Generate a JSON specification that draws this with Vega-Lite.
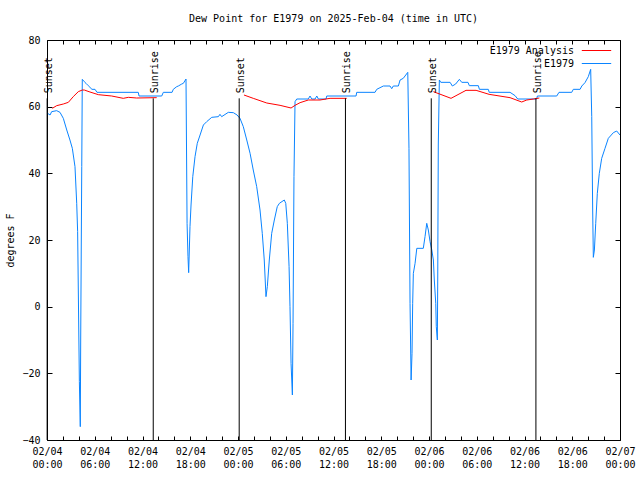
{
  "$schema": "https://vega.github.io/schema/vega-lite/v6.json",
  "width": 573,
  "height": 400,
  "autosize": {"type": "none"},
  "padding": {"left": 47, "top": 40, "right": 20, "bottom": 40},
  "background": "white",
  "title": {
    "text": "Dew Point for E1979 on 2025-Feb-04 (time in UTC)",
    "font": "DejaVu Sans Mono",
    "fontSize": 10,
    "fontWeight": "normal",
    "color": "black",
    "anchor": "middle",
    "offset": 11
  },
  "config": {
    "font": "DejaVu Sans Mono",
    "view": {"stroke": "black", "strokeWidth": 1},
    "axis": {
      "domain": false,
      "grid": false,
      "labelFont": "DejaVu Sans Mono",
      "labelFontSize": 10,
      "labelColor": "black",
      "tickColor": "black",
      "tickWidth": 1,
      "titleFont": "DejaVu Sans Mono",
      "titleFontSize": 10,
      "titleFontWeight": "normal",
      "titleColor": "black"
    }
  },
  "datasets": {
    "obs": [
      {"t": "2025-02-04T00:05:00Z", "v": 58.0, "series": "E1979", "seg": "b"},
      {"t": "2025-02-04T00:23:00Z", "v": 57.5, "series": "E1979", "seg": "b"},
      {"t": "2025-02-04T00:35:00Z", "v": 58.5, "series": "E1979", "seg": "b"},
      {"t": "2025-02-04T01:13:00Z", "v": 58.8, "series": "E1979", "seg": "b"},
      {"t": "2025-02-04T01:38:00Z", "v": 58.3, "series": "E1979", "seg": "b"},
      {"t": "2025-02-04T02:03:00Z", "v": 56.5, "series": "E1979", "seg": "b"},
      {"t": "2025-02-04T02:29:00Z", "v": 53, "series": "E1979", "seg": "b"},
      {"t": "2025-02-04T02:53:00Z", "v": 50, "series": "E1979", "seg": "b"},
      {"t": "2025-02-04T03:11:00Z", "v": 47.5, "series": "E1979", "seg": "b"},
      {"t": "2025-02-04T03:31:00Z", "v": 42, "series": "E1979", "seg": "b"},
      {"t": "2025-02-04T03:44:00Z", "v": 31, "series": "E1979", "seg": "b"},
      {"t": "2025-02-04T03:51:00Z", "v": 22.5, "series": "E1979", "seg": "b"},
      {"t": "2025-02-04T03:56:00Z", "v": 5, "series": "E1979", "seg": "b"},
      {"t": "2025-02-04T04:04:00Z", "v": -22.5, "series": "E1979", "seg": "b"},
      {"t": "2025-02-04T04:11:00Z", "v": -36, "series": "E1979", "seg": "b"},
      {"t": "2025-02-04T04:14:00Z", "v": -10, "series": "E1979", "seg": "b"},
      {"t": "2025-02-04T04:22:00Z", "v": 42, "series": "E1979", "seg": "b"},
      {"t": "2025-02-04T04:26:00Z", "v": 68.2, "series": "E1979", "seg": "b"},
      {"t": "2025-02-04T04:41:00Z", "v": 67.5, "series": "E1979", "seg": "b"},
      {"t": "2025-02-04T04:54:00Z", "v": 67, "series": "E1979", "seg": "b"},
      {"t": "2025-02-04T05:11:00Z", "v": 66.3, "series": "E1979", "seg": "b"},
      {"t": "2025-02-04T05:39:00Z", "v": 65.2, "series": "E1979", "seg": "b"},
      {"t": "2025-02-04T06:02:00Z", "v": 65.2, "series": "E1979", "seg": "b"},
      {"t": "2025-02-04T06:17:00Z", "v": 64.3, "series": "E1979", "seg": "b"},
      {"t": "2025-02-04T11:28:00Z", "v": 64.3, "series": "E1979", "seg": "b"},
      {"t": "2025-02-04T11:34:00Z", "v": 63.2, "series": "E1979", "seg": "b"},
      {"t": "2025-02-04T14:25:00Z", "v": 63.2, "series": "E1979", "seg": "b"},
      {"t": "2025-02-04T14:37:00Z", "v": 64.3, "series": "E1979", "seg": "b"},
      {"t": "2025-02-04T15:43:00Z", "v": 64.3, "series": "E1979", "seg": "b"},
      {"t": "2025-02-04T15:52:00Z", "v": 65.2, "series": "E1979", "seg": "b"},
      {"t": "2025-02-04T16:18:00Z", "v": 66, "series": "E1979", "seg": "b"},
      {"t": "2025-02-04T16:30:00Z", "v": 66.2, "series": "E1979", "seg": "b"},
      {"t": "2025-02-04T16:56:00Z", "v": 66.8, "series": "E1979", "seg": "b"},
      {"t": "2025-02-04T17:08:00Z", "v": 67, "series": "E1979", "seg": "b"},
      {"t": "2025-02-04T17:28:00Z", "v": 68.3, "series": "E1979", "seg": "b"},
      {"t": "2025-02-04T17:36:00Z", "v": 25, "series": "E1979", "seg": "b"},
      {"t": "2025-02-04T17:43:00Z", "v": 15, "series": "E1979", "seg": "b"},
      {"t": "2025-02-04T17:48:00Z", "v": 10.2, "series": "E1979", "seg": "b"},
      {"t": "2025-02-04T17:58:00Z", "v": 24, "series": "E1979", "seg": "b"},
      {"t": "2025-02-04T18:06:00Z", "v": 30.5, "series": "E1979", "seg": "b"},
      {"t": "2025-02-04T18:19:00Z", "v": 39, "series": "E1979", "seg": "b"},
      {"t": "2025-02-04T18:36:00Z", "v": 45, "series": "E1979", "seg": "b"},
      {"t": "2025-02-04T18:53:00Z", "v": 49, "series": "E1979", "seg": "b"},
      {"t": "2025-02-04T19:14:00Z", "v": 51.5, "series": "E1979", "seg": "b"},
      {"t": "2025-02-04T19:39:00Z", "v": 54.5, "series": "E1979", "seg": "b"},
      {"t": "2025-02-04T20:04:00Z", "v": 55.5, "series": "E1979", "seg": "b"},
      {"t": "2025-02-04T20:42:00Z", "v": 56.8, "series": "E1979", "seg": "b"},
      {"t": "2025-02-04T21:32:00Z", "v": 57, "series": "E1979", "seg": "b"},
      {"t": "2025-02-04T21:44:00Z", "v": 57.7, "series": "E1979", "seg": "b"},
      {"t": "2025-02-04T21:57:00Z", "v": 57, "series": "E1979", "seg": "b"},
      {"t": "2025-02-04T22:47:00Z", "v": 58.3, "series": "E1979", "seg": "b"},
      {"t": "2025-02-04T23:25:00Z", "v": 58.2, "series": "E1979", "seg": "b"},
      {"t": "2025-02-04T23:53:00Z", "v": 57.5, "series": "E1979", "seg": "b"},
      {"t": "2025-02-05T00:15:00Z", "v": 56.5, "series": "E1979", "seg": "b"},
      {"t": "2025-02-05T00:40:00Z", "v": 54, "series": "E1979", "seg": "b"},
      {"t": "2025-02-05T01:06:00Z", "v": 50, "series": "E1979", "seg": "b"},
      {"t": "2025-02-05T01:31:00Z", "v": 46, "series": "E1979", "seg": "b"},
      {"t": "2025-02-05T01:55:00Z", "v": 41, "series": "E1979", "seg": "b"},
      {"t": "2025-02-05T02:21:00Z", "v": 36, "series": "E1979", "seg": "b"},
      {"t": "2025-02-05T02:46:00Z", "v": 29, "series": "E1979", "seg": "b"},
      {"t": "2025-02-05T03:03:00Z", "v": 22, "series": "E1979", "seg": "b"},
      {"t": "2025-02-05T03:18:00Z", "v": 14, "series": "E1979", "seg": "b"},
      {"t": "2025-02-05T03:31:00Z", "v": 3, "series": "E1979", "seg": "b"},
      {"t": "2025-02-05T03:41:00Z", "v": 6, "series": "E1979", "seg": "b"},
      {"t": "2025-02-05T03:56:00Z", "v": 14, "series": "E1979", "seg": "b"},
      {"t": "2025-02-05T04:14:00Z", "v": 22, "series": "E1979", "seg": "b"},
      {"t": "2025-02-05T04:34:00Z", "v": 26, "series": "E1979", "seg": "b"},
      {"t": "2025-02-05T04:56:00Z", "v": 30, "series": "E1979", "seg": "b"},
      {"t": "2025-02-05T05:12:00Z", "v": 31, "series": "E1979", "seg": "b"},
      {"t": "2025-02-05T05:49:00Z", "v": 32, "series": "E1979", "seg": "b"},
      {"t": "2025-02-05T06:00:00Z", "v": 31, "series": "E1979", "seg": "b"},
      {"t": "2025-02-05T06:12:00Z", "v": 25, "series": "E1979", "seg": "b"},
      {"t": "2025-02-05T06:25:00Z", "v": 12, "series": "E1979", "seg": "b"},
      {"t": "2025-02-05T06:32:00Z", "v": 0, "series": "E1979", "seg": "b"},
      {"t": "2025-02-05T06:40:00Z", "v": -17, "series": "E1979", "seg": "b"},
      {"t": "2025-02-05T06:50:00Z", "v": -26.5, "series": "E1979", "seg": "b"},
      {"t": "2025-02-05T06:55:00Z", "v": -5, "series": "E1979", "seg": "b"},
      {"t": "2025-02-05T07:02:00Z", "v": 39, "series": "E1979", "seg": "b"},
      {"t": "2025-02-05T07:10:00Z", "v": 61.5, "series": "E1979", "seg": "b"},
      {"t": "2025-02-05T07:23:00Z", "v": 62.3, "series": "E1979", "seg": "b"},
      {"t": "2025-02-05T08:50:00Z", "v": 62.3, "series": "E1979", "seg": "b"},
      {"t": "2025-02-05T09:03:00Z", "v": 63.2, "series": "E1979", "seg": "b"},
      {"t": "2025-02-05T09:16:00Z", "v": 62.3, "series": "E1979", "seg": "b"},
      {"t": "2025-02-05T09:41:00Z", "v": 62.3, "series": "E1979", "seg": "b"},
      {"t": "2025-02-05T09:54:00Z", "v": 63.2, "series": "E1979", "seg": "b"},
      {"t": "2025-02-05T10:06:00Z", "v": 62.3, "series": "E1979", "seg": "b"},
      {"t": "2025-02-05T11:04:00Z", "v": 62.3, "series": "E1979", "seg": "b"},
      {"t": "2025-02-05T11:09:00Z", "v": 63.2, "series": "E1979", "seg": "b"},
      {"t": "2025-02-05T14:50:00Z", "v": 63.2, "series": "E1979", "seg": "b"},
      {"t": "2025-02-05T14:55:00Z", "v": 64.3, "series": "E1979", "seg": "b"},
      {"t": "2025-02-05T17:13:00Z", "v": 64.3, "series": "E1979", "seg": "b"},
      {"t": "2025-02-05T17:26:00Z", "v": 65.2, "series": "E1979", "seg": "b"},
      {"t": "2025-02-05T18:16:00Z", "v": 66.2, "series": "E1979", "seg": "b"},
      {"t": "2025-02-05T19:06:00Z", "v": 66.2, "series": "E1979", "seg": "b"},
      {"t": "2025-02-05T19:19:00Z", "v": 65.4, "series": "E1979", "seg": "b"},
      {"t": "2025-02-05T19:31:00Z", "v": 66.2, "series": "E1979", "seg": "b"},
      {"t": "2025-02-05T20:09:00Z", "v": 66.2, "series": "E1979", "seg": "b"},
      {"t": "2025-02-05T20:22:00Z", "v": 68, "series": "E1979", "seg": "b"},
      {"t": "2025-02-05T20:46:00Z", "v": 68.5, "series": "E1979", "seg": "b"},
      {"t": "2025-02-05T21:20:00Z", "v": 70.3, "series": "E1979", "seg": "b"},
      {"t": "2025-02-05T21:29:00Z", "v": 47.5, "series": "E1979", "seg": "b"},
      {"t": "2025-02-05T21:37:00Z", "v": 1, "series": "E1979", "seg": "b"},
      {"t": "2025-02-05T21:45:00Z", "v": -22, "series": "E1979", "seg": "b"},
      {"t": "2025-02-05T21:52:00Z", "v": -14, "series": "E1979", "seg": "b"},
      {"t": "2025-02-05T21:57:00Z", "v": 1, "series": "E1979", "seg": "b"},
      {"t": "2025-02-05T22:02:00Z", "v": 10, "series": "E1979", "seg": "b"},
      {"t": "2025-02-05T22:15:00Z", "v": 13, "series": "E1979", "seg": "b"},
      {"t": "2025-02-05T22:28:00Z", "v": 17.5, "series": "E1979", "seg": "b"},
      {"t": "2025-02-05T23:17:00Z", "v": 17.5, "series": "E1979", "seg": "b"},
      {"t": "2025-02-05T23:30:00Z", "v": 21, "series": "E1979", "seg": "b"},
      {"t": "2025-02-05T23:43:00Z", "v": 25, "series": "E1979", "seg": "b"},
      {"t": "2025-02-05T23:55:00Z", "v": 23, "series": "E1979", "seg": "b"},
      {"t": "2025-02-06T00:08:00Z", "v": 19.5, "series": "E1979", "seg": "b"},
      {"t": "2025-02-06T00:21:00Z", "v": 17, "series": "E1979", "seg": "b"},
      {"t": "2025-02-06T00:33:00Z", "v": 14, "series": "E1979", "seg": "b"},
      {"t": "2025-02-06T00:40:00Z", "v": 8, "series": "E1979", "seg": "b"},
      {"t": "2025-02-06T00:51:00Z", "v": 1, "series": "E1979", "seg": "b"},
      {"t": "2025-02-06T00:55:00Z", "v": -6, "series": "E1979", "seg": "b"},
      {"t": "2025-02-06T01:03:00Z", "v": -10, "series": "E1979", "seg": "b"},
      {"t": "2025-02-06T01:06:00Z", "v": 9.5, "series": "E1979", "seg": "b"},
      {"t": "2025-02-06T01:10:00Z", "v": 48.5, "series": "E1979", "seg": "b"},
      {"t": "2025-02-06T01:18:00Z", "v": 68, "series": "E1979", "seg": "b"},
      {"t": "2025-02-06T01:29:00Z", "v": 67.3, "series": "E1979", "seg": "b"},
      {"t": "2025-02-06T02:39:00Z", "v": 67.3, "series": "E1979", "seg": "b"},
      {"t": "2025-02-06T02:56:00Z", "v": 66.2, "series": "E1979", "seg": "b"},
      {"t": "2025-02-06T03:21:00Z", "v": 66.8, "series": "E1979", "seg": "b"},
      {"t": "2025-02-06T03:49:00Z", "v": 68.2, "series": "E1979", "seg": "b"},
      {"t": "2025-02-06T04:07:00Z", "v": 67.3, "series": "E1979", "seg": "b"},
      {"t": "2025-02-06T04:54:00Z", "v": 67.3, "series": "E1979", "seg": "b"},
      {"t": "2025-02-06T05:04:00Z", "v": 66.3, "series": "E1979", "seg": "b"},
      {"t": "2025-02-06T06:12:00Z", "v": 66.3, "series": "E1979", "seg": "b"},
      {"t": "2025-02-06T06:20:00Z", "v": 65.2, "series": "E1979", "seg": "b"},
      {"t": "2025-02-06T07:27:00Z", "v": 65.2, "series": "E1979", "seg": "b"},
      {"t": "2025-02-06T07:34:00Z", "v": 64.3, "series": "E1979", "seg": "b"},
      {"t": "2025-02-06T10:11:00Z", "v": 64.3, "series": "E1979", "seg": "b"},
      {"t": "2025-02-06T10:49:00Z", "v": 63.3, "series": "E1979", "seg": "b"},
      {"t": "2025-02-06T11:09:00Z", "v": 62.3, "series": "E1979", "seg": "b"},
      {"t": "2025-02-06T13:32:00Z", "v": 62.3, "series": "E1979", "seg": "b"},
      {"t": "2025-02-06T13:37:00Z", "v": 63.2, "series": "E1979", "seg": "b"},
      {"t": "2025-02-06T16:03:00Z", "v": 63.2, "series": "E1979", "seg": "b"},
      {"t": "2025-02-06T16:20:00Z", "v": 64.3, "series": "E1979", "seg": "b"},
      {"t": "2025-02-06T17:56:00Z", "v": 64.3, "series": "E1979", "seg": "b"},
      {"t": "2025-02-06T18:08:00Z", "v": 65.2, "series": "E1979", "seg": "b"},
      {"t": "2025-02-06T18:59:00Z", "v": 65.2, "series": "E1979", "seg": "b"},
      {"t": "2025-02-06T19:12:00Z", "v": 66.2, "series": "E1979", "seg": "b"},
      {"t": "2025-02-06T19:36:00Z", "v": 67.2, "series": "E1979", "seg": "b"},
      {"t": "2025-02-06T20:01:00Z", "v": 69, "series": "E1979", "seg": "b"},
      {"t": "2025-02-06T20:19:00Z", "v": 71.2, "series": "E1979", "seg": "b"},
      {"t": "2025-02-06T20:27:00Z", "v": 57, "series": "E1979", "seg": "b"},
      {"t": "2025-02-06T20:34:00Z", "v": 29, "series": "E1979", "seg": "b"},
      {"t": "2025-02-06T20:39:00Z", "v": 14.8, "series": "E1979", "seg": "b"},
      {"t": "2025-02-06T20:47:00Z", "v": 17, "series": "E1979", "seg": "b"},
      {"t": "2025-02-06T20:57:00Z", "v": 25, "series": "E1979", "seg": "b"},
      {"t": "2025-02-06T21:09:00Z", "v": 34, "series": "E1979", "seg": "b"},
      {"t": "2025-02-06T21:24:00Z", "v": 40, "series": "E1979", "seg": "b"},
      {"t": "2025-02-06T21:42:00Z", "v": 44.5, "series": "E1979", "seg": "b"},
      {"t": "2025-02-06T22:07:00Z", "v": 47.5, "series": "E1979", "seg": "b"},
      {"t": "2025-02-06T22:32:00Z", "v": 50.5, "series": "E1979", "seg": "b"},
      {"t": "2025-02-06T23:10:00Z", "v": 52.2, "series": "E1979", "seg": "b"},
      {"t": "2025-02-06T23:35:00Z", "v": 52.7, "series": "E1979", "seg": "b"},
      {"t": "2025-02-07T00:00:00Z", "v": 51.5, "series": "E1979", "seg": "b"},
      {"t": "2025-02-04T00:40:00Z", "v": 59.5, "series": "E1979 Analysis", "seg": "a1"},
      {"t": "2025-02-04T01:13:00Z", "v": 60.3, "series": "E1979 Analysis", "seg": "a1"},
      {"t": "2025-02-04T02:03:00Z", "v": 60.8, "series": "E1979 Analysis", "seg": "a1"},
      {"t": "2025-02-04T02:41:00Z", "v": 61.3, "series": "E1979 Analysis", "seg": "a1"},
      {"t": "2025-02-04T03:18:00Z", "v": 63, "series": "E1979 Analysis", "seg": "a1"},
      {"t": "2025-02-04T03:56:00Z", "v": 64.5, "series": "E1979 Analysis", "seg": "a1"},
      {"t": "2025-02-04T04:26:00Z", "v": 65, "series": "E1979 Analysis", "seg": "a1"},
      {"t": "2025-02-04T04:41:00Z", "v": 65, "series": "E1979 Analysis", "seg": "a1"},
      {"t": "2025-02-04T05:24:00Z", "v": 64.4, "series": "E1979 Analysis", "seg": "a1"},
      {"t": "2025-02-04T06:27:00Z", "v": 63.6, "series": "E1979 Analysis", "seg": "a1"},
      {"t": "2025-02-04T08:08:00Z", "v": 63.2, "series": "E1979 Analysis", "seg": "a1"},
      {"t": "2025-02-04T09:35:00Z", "v": 62.5, "series": "E1979 Analysis", "seg": "a1"},
      {"t": "2025-02-04T10:13:00Z", "v": 62.8, "series": "E1979 Analysis", "seg": "a1"},
      {"t": "2025-02-04T11:16:00Z", "v": 62.6, "series": "E1979 Analysis", "seg": "a1"},
      {"t": "2025-02-04T13:47:00Z", "v": 62.7, "series": "E1979 Analysis", "seg": "a1"},
      {"t": "2025-02-05T00:45:00Z", "v": 63.5, "series": "E1979 Analysis", "seg": "a2"},
      {"t": "2025-02-05T01:55:00Z", "v": 62.5, "series": "E1979 Analysis", "seg": "a2"},
      {"t": "2025-02-05T03:37:00Z", "v": 61.1, "series": "E1979 Analysis", "seg": "a2"},
      {"t": "2025-02-05T05:17:00Z", "v": 60.4, "series": "E1979 Analysis", "seg": "a2"},
      {"t": "2025-02-05T06:40:00Z", "v": 59.6, "series": "E1979 Analysis", "seg": "a2"},
      {"t": "2025-02-05T07:10:00Z", "v": 60.4, "series": "E1979 Analysis", "seg": "a2"},
      {"t": "2025-02-05T07:48:00Z", "v": 61.2, "series": "E1979 Analysis", "seg": "a2"},
      {"t": "2025-02-05T08:50:00Z", "v": 62, "series": "E1979 Analysis", "seg": "a2"},
      {"t": "2025-02-05T10:18:00Z", "v": 62, "series": "E1979 Analysis", "seg": "a2"},
      {"t": "2025-02-05T11:34:00Z", "v": 62.5, "series": "E1979 Analysis", "seg": "a2"},
      {"t": "2025-02-05T13:40:00Z", "v": 62.5, "series": "E1979 Analysis", "seg": "a2"},
      {"t": "2025-02-06T00:33:00Z", "v": 64.5, "series": "E1979 Analysis", "seg": "a3"},
      {"t": "2025-02-06T02:46:00Z", "v": 62.5, "series": "E1979 Analysis", "seg": "a3"},
      {"t": "2025-02-06T04:39:00Z", "v": 64.9, "series": "E1979 Analysis", "seg": "a3"},
      {"t": "2025-02-06T05:55:00Z", "v": 64.9, "series": "E1979 Analysis", "seg": "a3"},
      {"t": "2025-02-06T07:33:00Z", "v": 63.7, "series": "E1979 Analysis", "seg": "a3"},
      {"t": "2025-02-06T10:11:00Z", "v": 62.7, "series": "E1979 Analysis", "seg": "a3"},
      {"t": "2025-02-06T11:39:00Z", "v": 61.4, "series": "E1979 Analysis", "seg": "a3"},
      {"t": "2025-02-06T12:17:00Z", "v": 62, "series": "E1979 Analysis", "seg": "a3"},
      {"t": "2025-02-06T13:07:00Z", "v": 62.3, "series": "E1979 Analysis", "seg": "a3"},
      {"t": "2025-02-06T13:52:00Z", "v": 62.6, "series": "E1979 Analysis", "seg": "a3"}
    ],
    "sun": [
      {"t": "2025-02-04T00:01:00Z", "label": "Sunset"},
      {"t": "2025-02-04T13:21:00Z", "label": "Sunrise"},
      {"t": "2025-02-05T00:09:00Z", "label": "Sunset"},
      {"t": "2025-02-05T13:30:00Z", "label": "Sunrise"},
      {"t": "2025-02-06T00:17:00Z", "label": "Sunset"},
      {"t": "2025-02-06T13:26:00Z", "label": "Sunrise"}
    ]
  },
  "layer": [
    {
      "data": {"name": "obs"},
      "mark": {"type": "line", "strokeWidth": 1, "clip": true},
      "encoding": {
        "x": {
          "field": "t",
          "type": "temporal",
          "scale": {"type": "utc", "domain": [1738627200000, 1738886400000], "nice": false},
          "axis": {
            "orient": "bottom",
            "title": null,
            "values": [1738627200000, 1738634400000, 1738641600000, 1738648800000, 1738656000000, 1738663200000, 1738670400000, 1738677600000, 1738684800000, 1738692000000, 1738699200000, 1738706400000, 1738713600000, 1738720800000, 1738728000000, 1738735200000, 1738742400000, 1738749600000, 1738756800000, 1738764000000, 1738771200000, 1738778400000, 1738785600000, 1738792800000, 1738800000000, 1738807200000, 1738814400000, 1738821600000, 1738828800000, 1738836000000, 1738843200000, 1738850400000, 1738857600000, 1738864800000, 1738872000000, 1738879200000, 1738886400000],
            "tickSize": -4,
            "labelPadding": 10,
            "labelOverlap": false,
            "labelFlush": false,
            "labelAlign": "center",
            "labelBaseline": "top",
            "labelLineHeight": 13,
            "labelExpr": "utchours(datum.value) % 6 == 0 ? [utcFormat(datum.value, '%m/%d'), utcFormat(datum.value, '%H:%M')] : ''"
          }
        },
        "y": {
          "field": "v",
          "type": "quantitative",
          "scale": {"domain": [-40, 80], "nice": false, "zero": false},
          "axis": {
            "orient": "left",
            "title": "degrees F",
            "values": [-40, -20, 0, 20, 40, 60, 80],
            "tickSize": -5,
            "labelPadding": 12,
            "titlePadding": 6
          }
        },
        "color": {
          "field": "series",
          "type": "nominal",
          "scale": {"domain": ["E1979 Analysis", "E1979"], "range": ["#ff0000", "#0a84ff"]},
          "legend": {
            "orient": "none",
            "legendX": 543,
            "legendY": 4,
            "title": null,
            "padding": 0,
            "labelFont": "DejaVu Sans Mono",
            "labelFontSize": 10,
            "labelColor": "black",
            "labelAlign": "right",
            "labelOffset": -29,
            "symbolType": "M-2.45,0H2.45",
            "symbolSize": 144,
            "symbolStrokeWidth": 1,
            "symbolFillColor": "transparent",
            "rowPadding": 1
          }
        },
        "detail": {"field": "seg", "type": "nominal"}
      }
    },
    {
      "data": {"name": "sun"},
      "mark": {"type": "rule", "color": "black", "strokeWidth": 1},
      "encoding": {
        "x": {
          "field": "t",
          "type": "temporal",
          "axis": {
            "orient": "top",
            "title": null,
            "labels": false,
            "values": [1738627200000, 1738634400000, 1738641600000, 1738648800000, 1738656000000, 1738663200000, 1738670400000, 1738677600000, 1738684800000, 1738692000000, 1738699200000, 1738706400000, 1738713600000, 1738720800000, 1738728000000, 1738735200000, 1738742400000, 1738749600000, 1738756800000, 1738764000000, 1738771200000, 1738778400000, 1738785600000, 1738792800000, 1738800000000, 1738807200000, 1738814400000, 1738821600000, 1738828800000, 1738836000000, 1738843200000, 1738850400000, 1738857600000, 1738864800000, 1738872000000, 1738879200000, 1738886400000],
            "tickSize": -4
          }
        },
        "y": {
          "datum": -40,
          "type": "quantitative",
          "axis": {
            "orient": "right",
            "title": null,
            "labels": false,
            "values": [-40, -20, 0, 20, 40, 60, 80],
            "tickSize": -5
          }
        },
        "y2": {"datum": 62.5}
      }
    },
    {
      "data": {"name": "sun"},
      "mark": {"type": "text", "angle": 270, "align": "left", "baseline": "middle", "dy": 2, "font": "DejaVu Sans Mono", "fontSize": 10, "color": "black"},
      "encoding": {
        "x": {"field": "t", "type": "temporal", "axis": null},
        "y": {"datum": 64.0, "type": "quantitative", "axis": null},
        "text": {"field": "label", "type": "nominal"}
      }
    }
  ],
  "resolve": {"axis": {"x": "independent", "y": "independent"}}
}
